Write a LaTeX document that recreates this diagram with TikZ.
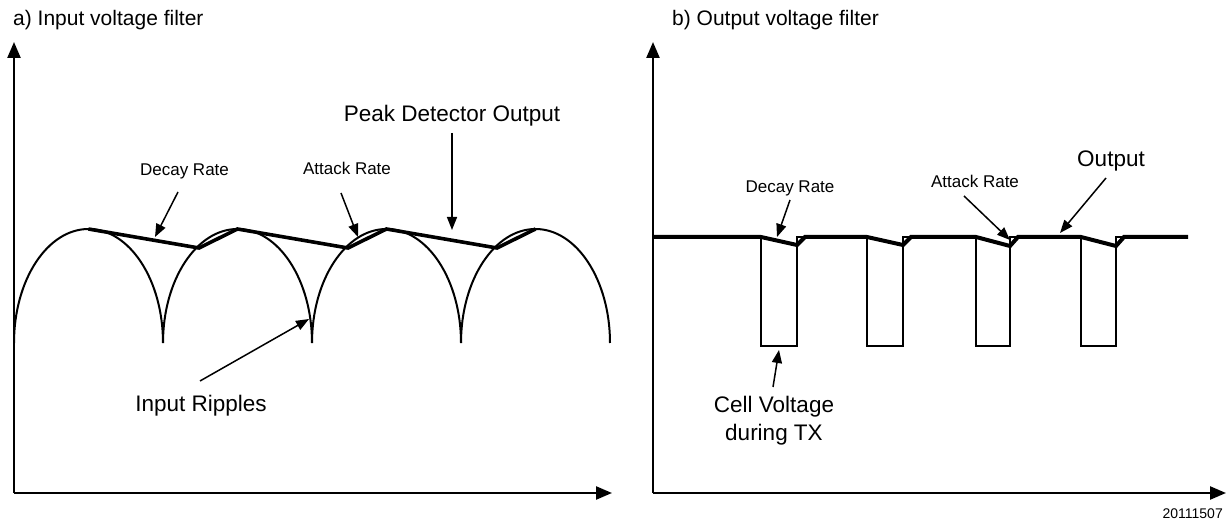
\documentclass[tikz,border=0pt]{standalone}
\usepackage{fontspec}
\setmainfont{Liberation Sans}
\usetikzlibrary{arrows.meta}
\tikzset{
  axis/.style={line width=2.4pt,-{Triangle[length=16pt,width=13pt]}},
  hump/.style={line width=2pt},
  detector/.style={line width=3.6pt,line join=miter},
  outline/.style={line width=4pt,line join=miter},
  pulse/.style={line width=2pt},
  pointer/.style={line width=1.5pt,-{Triangle[length=13pt,width=10pt]}},
  small/.style={font=\fontsize{17}{20}\selectfont,inner sep=0pt,anchor=base},
  big/.style={font=\fontsize{22.5}{28}\selectfont,inner sep=0pt,anchor=base},
  title/.style={font=\fontsize{21}{25}\selectfont,inner sep=0pt,anchor=base west},
}
\begin{document}
\begin{tikzpicture}[x=1pt,y=-1pt]
\useasboundingbox (0,0) rectangle (1229,526);
% ---------- panel a ----------
\node[title] (ta) at (13,26) {a) Input voltage filter};
\coordinate (aO) at (14,493);
\coordinate (aY) at (14,42);
\coordinate (aX) at (612,493);
\draw[axis] (aO) -- (aY);
\draw[axis] (aO) -- (aX);
% humps
\foreach \c in {88.5,237.5,386.5,535.5}{
  \draw[hump] (\c-74.5,343) arc[start angle=180,end angle=0,x radius=74.5pt,y radius=114pt];
}
% peak detector output
\draw[detector] (88.5,229) -- (199,248) -- (237.5,229) -- (348,248) -- (386.5,229) -- (497,248) -- (535.5,229);
% labels
\node[small] (adecay) at (184.5,176) {Decay Rate};
\node[small] (aattack) at (347,175) {Attack Rate};
\node[big] (peak) at (452,122) {Peak Detector Output};
\node[big] (ripples) at (201,412) {Input Ripples};
\coordinate (adecayS) at (178,192);
\coordinate (adecayT) at (155,237);
\coordinate (aattackS) at (341,193);
\coordinate (aattackT) at (358,237);
\coordinate (peakS) at (452,133);
\coordinate (peakT) at (452,230);
\coordinate (ripS) at (200,381);
\coordinate (ripT) at (309,319);
\draw[pointer] (adecayS) -- (adecayT);
\draw[pointer] (aattackS) -- (aattackT);
\draw[pointer] (peakS) -- (peakT);
\draw[pointer] (ripS) -- (ripT);
% ---------- panel b ----------
\node[title] (tb) at (672,26) {b) Output voltage filter};
\coordinate (bO) at (653,493);
\coordinate (bY) at (653,42);
\coordinate (bX) at (1226,493);
\draw[axis] (bO) -- (bY);
\draw[axis] (bO) -- (bX);
% pulses
\foreach \l/\r in {761/797,867/903,976/1010,1081/1116}{
  \draw[pulse] (\l,237) -- (\l,346) -- (\r,346) -- (\r,237) -- (\r+8,237);
}
% output
\draw[outline] (653,237) -- (761,237) -- (797,245) -- (805,237) -- (867,237) -- (903,245) -- (911,237)
  -- (976,237) -- (1010,246) -- (1018,237) -- (1081,237) -- (1116,246) -- (1124,237) -- (1188,237);
% labels
\node[small] (bdecay) at (790,193) {Decay Rate};
\node[small] (battack) at (975,188) {Attack Rate};
\node[big] (out) at (1111,167) {Output};
\node[big,align=center,anchor=north] (cell) at (774,396) {Cell Voltage\\during TX};
\coordinate (bdecayS) at (790,200);
\coordinate (bdecayT) at (777,237);
\coordinate (battackS) at (964,196);
\coordinate (battackT) at (1010,240);
\coordinate (outS) at (1106,178);
\coordinate (outT) at (1060,233);
\coordinate (cellS) at (773,387);
\coordinate (cellT) at (779,350);
\draw[pointer] (bdecayS) -- (bdecayT);
\draw[pointer] (battackS) -- (battackT);
\draw[pointer] (outS) -- (outT);
\draw[pointer] (cellS) -- (cellT);
% footer
\node[font=\fontsize{14}{16}\selectfont,inner sep=0pt,anchor=base east] (code) at (1223,518) {20111507};
\end{tikzpicture}
\end{document}
